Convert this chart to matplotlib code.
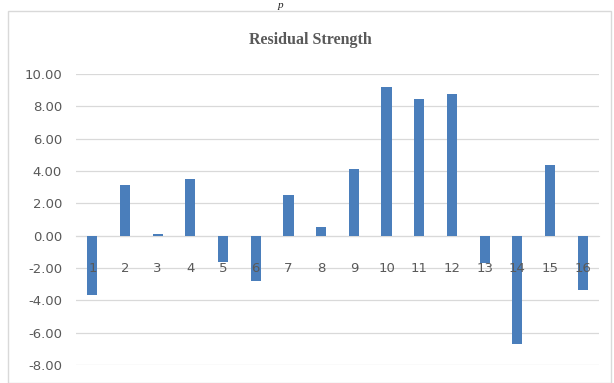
import matplotlib
matplotlib.use("Agg")
import matplotlib.pyplot as plt
from matplotlib.patches import Rectangle

# Residual strength per specimen
specimens = ["1", "2", "3", "4", "5", "6", "7", "8",
             "9", "10", "11", "12", "13", "14", "15", "16"]
residuals = [-3.70, 3.15, 0.10, 3.50, -1.60, -2.80, 2.50, 0.55,
             4.10, 9.17, 8.43, 8.78, -1.70, -6.70, 4.35, -3.38]
y_ticks = [-8, -6, -4, -2, 0, 2, 4, 6, 8, 10]

W, H = 614, 383
fig = plt.figure(figsize=(W / 100, H / 100), dpi=100)
fig.patch.set_facecolor("white")

# chart frame
fig.patches.append(Rectangle((8 / W, 0), (611 - 8) / W, (H - 11) / H,
                             transform=fig.transFigure, fill=False,
                             edgecolor="#d9d9d9", linewidth=1.0))

# fragment of the caption line above the chart
fig.text(280 / W, 1.0 - 0.5 / H, "p", family="Liberation Serif", style="italic",
         fontsize=8, ha="center", va="top", color="#222222")

left, right = 76 / W, 599 / W
bottom, top = (H - 365) / H, (H - 74) / H
ax = fig.add_axes([left, bottom, right - left, top - bottom])

x = list(range(1, len(specimens) + 1))
ax.bar(x, residuals, width=0.31, color="#4a7ebb", zorder=3)

ax.set_xlim(0.5, len(specimens) + 0.5)
ax.set_ylim(-8, 10)
ax.set_yticks(y_ticks)
ax.set_yticklabels([f"{v:.2f}" for v in y_ticks])
ax.grid(axis="y", color="#d9d9d9", linewidth=0.9, zorder=0)

ax.set_xticks(x)
ax.set_xticklabels(specimens)
ax.spines["bottom"].set_position(("data", 0))
ax.spines["bottom"].set_color("#d9d9d9")
ax.spines["bottom"].set_zorder(2)
for s in ("top", "left", "right"):
    ax.spines[s].set_visible(False)

# category labels sit on top of the bars
ax.xaxis.set_zorder(4)

ax.tick_params(axis="y", length=0, pad=10, labelsize=9.5, labelcolor="#595959")
ax.tick_params(axis="x", length=0, pad=19, labelsize=9.5, labelcolor="#595959")
for lbl in ax.get_xticklabels() + ax.get_yticklabels():
    lbl.set_family("DejaVu Sans")

fig.text(310 / W, (H - 40) / H, "Residual Strength", family="Liberation Serif",
         fontweight="bold", fontsize=11.5, color="#595959",
         ha="center", va="center")

fig.savefig("out.png", dpi=100, facecolor="white")
